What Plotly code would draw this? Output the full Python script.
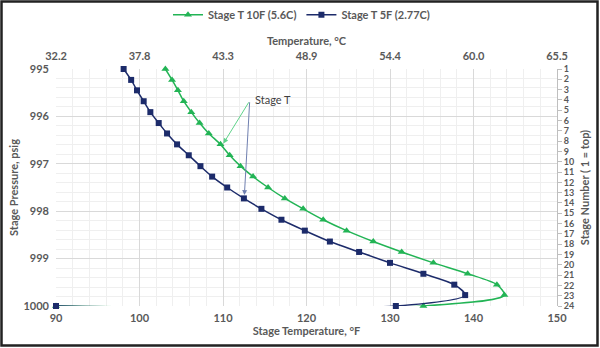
import plotly.graph_objects as go

# ---- data ----
pressure_psig = [995.00, 995.23, 995.45, 995.68, 995.91, 996.14, 996.36, 996.59,
                 996.82, 997.05, 997.27, 997.50, 997.73, 997.95, 998.18, 998.41,
                 998.64, 998.86, 999.09, 999.32, 999.55, 999.77, 1000.00, 1000.00]
temp_10F = [103.1, 103.9, 104.6, 105.3, 106.2, 107.2, 108.3, 109.7, 110.8, 112.1,
            113.6, 115.4, 117.4, 119.6, 122.0, 124.8, 128.0, 131.4, 135.2, 139.3,
            142.8, 143.7, 134.0, 90.0]
temp_5F = [98.1, 99.0, 99.7, 100.5, 101.3, 102.3, 103.3, 104.5, 105.9, 107.3,
           108.7, 110.5, 112.5, 114.6, 117.0, 119.8, 122.8, 126.3, 130.0, 134.0,
           137.7, 139.0, 130.7, 90.0]
series_names = ["Stage T 10F (5.6C)", "Stage T 5F (2.77C)"]
x_ticks_F = [90, 100, 110, 120, 130, 140, 150]
x_ticks_C = ["32.2", "37.8", "43.3", "48.9", "54.4", "60.0", "65.5"]
y_ticks_p = [995, 996, 997, 998, 999, 1000]
stage_numbers = list(range(1, 25))

GREEN = "#22b455"
BLUE = "#1c2b6a"
TXT = "#595959"
FONT = "Lato"

W, H = 600, 348
ML, MR, MT, MB = 56, 43, 69, 42

fig = go.Figure()
fig.add_trace(go.Scatter(
    x=temp_10F, y=pressure_psig, name=series_names[0], mode="lines+markers",
    line=dict(color=GREEN, width=1.5, shape="spline", smoothing=0.8),
    marker=dict(symbol="triangle-up", size=7, color=GREEN), cliponaxis=False))
fig.add_trace(go.Scatter(
    x=temp_5F, y=pressure_psig, name=series_names[1], mode="lines+markers",
    line=dict(color=BLUE, width=1.5, shape="spline", smoothing=0.8),
    marker=dict(symbol="square", size=6, color=BLUE), cliponaxis=False))
# dummy trace to carry the secondary axes
fig.add_trace(go.Scatter(x=[x_ticks_F[0], x_ticks_F[-1]], y=[stage_numbers[0], stage_numbers[-1]],
                         xaxis="x2", yaxis="y2", mode="markers",
                         marker=dict(opacity=0), showlegend=False, hoverinfo="skip"))

tickfont = dict(family=FONT, size=11, color=TXT, weight="bold")
titlefont = dict(family=FONT, size=11, color=TXT, weight="bold")

fig.update_layout(
    width=W, height=H, margin=dict(l=ML, r=MR, t=MT, b=MB, autoexpand=False),
    paper_bgcolor="white", plot_bgcolor="white",
    showlegend=True,
    legend=dict(orientation="h", x=0.49, xanchor="center", y=1.29, yanchor="top",
                font=dict(family=FONT, size=11, color=TXT, weight="bold"),
                bgcolor="rgba(0,0,0,0)", itemwidth=30, tracegroupgap=0),
    xaxis=dict(range=[90, 150], tickvals=x_ticks_F, ticktext=[str(v) for v in x_ticks_F],
               showgrid=True, gridcolor="#d9d9d9", gridwidth=1,
               minor=dict(dtick=2, showgrid=True, gridcolor="#efefef", gridwidth=1),
               zeroline=False, showline=False, tickfont=tickfont, ticklabelstandoff=4,
               title=dict(text="Stage Temperature, °F", font=titlefont, standoff=4)),
    yaxis=dict(range=[1000, 995], tickvals=y_ticks_p, showgrid=True, gridcolor="#d9d9d9",
               minor=dict(dtick=0.2, showgrid=True, gridcolor="#efefef"),
               zeroline=False, showline=False, tickfont=tickfont, ticks="",
               ticklabelstandoff=6,
               title=dict(text="Stage Pressure, psig", font=titlefont, standoff=2)),
    xaxis2=dict(overlaying="x", side="top", range=[90, 150], tickvals=x_ticks_F,
                ticktext=x_ticks_C, showgrid=False, zeroline=False, tickfont=tickfont,
                ticklabelstandoff=6,
                title=dict(text="Temperature, °C", font=titlefont, standoff=0)),
    yaxis2=dict(overlaying="y", side="right", range=[24, 1], tickvals=stage_numbers,
                showgrid=False, zeroline=False, showline=True, linecolor="#bfbfbf",
                ticks="outside", ticklen=4, tickcolor="#bfbfbf",
                tickfont=dict(family=FONT, size=9, color=TXT, weight="bold"),
                title=dict(text="Stage Number ( 1 = top)", font=titlefont, standoff=8)),
)

# annotation arrows "Stage T"
tail_x, tail_y = 113.2, 995.67
fig.add_annotation(x=110.05, y=996.57, ax=tail_x, ay=tail_y, axref="x", ayref="y",
                   xref="x", yref="y", text="", showarrow=True, arrowhead=2,
                   arrowsize=1, arrowwidth=1, arrowcolor="#5fd38a")
fig.add_annotation(x=112.56, y=997.66, ax=tail_x, ay=tail_y, axref="x", ayref="y",
                   xref="x", yref="y", text="", showarrow=True, arrowhead=2,
                   arrowsize=1, arrowwidth=1, arrowcolor="#7080b0")
fig.add_annotation(x=113.6, y=995.64, xref="x", yref="y", text="Stage T", showarrow=False,
                   xanchor="left", yanchor="middle",
                   font=dict(family=FONT, size=11, color="#404040"))

# outer frame
pw, ph = W - ML - MR, H - MT - MB
def px2paper_x(p): return (p - ML) / pw
def px2paper_y(p): return 1 - (p - MT) / ph
fig.add_shape(type="rect", xref="paper", yref="paper",
              x0=px2paper_x(1.5), x1=px2paper_x(W - 2.5),
              y0=px2paper_y(H - 2.5), y1=px2paper_y(1.5),
              line=dict(color="#222222", width=2.5), fillcolor="rgba(0,0,0,0)", layer="above")

fig.write_html("out.html")
